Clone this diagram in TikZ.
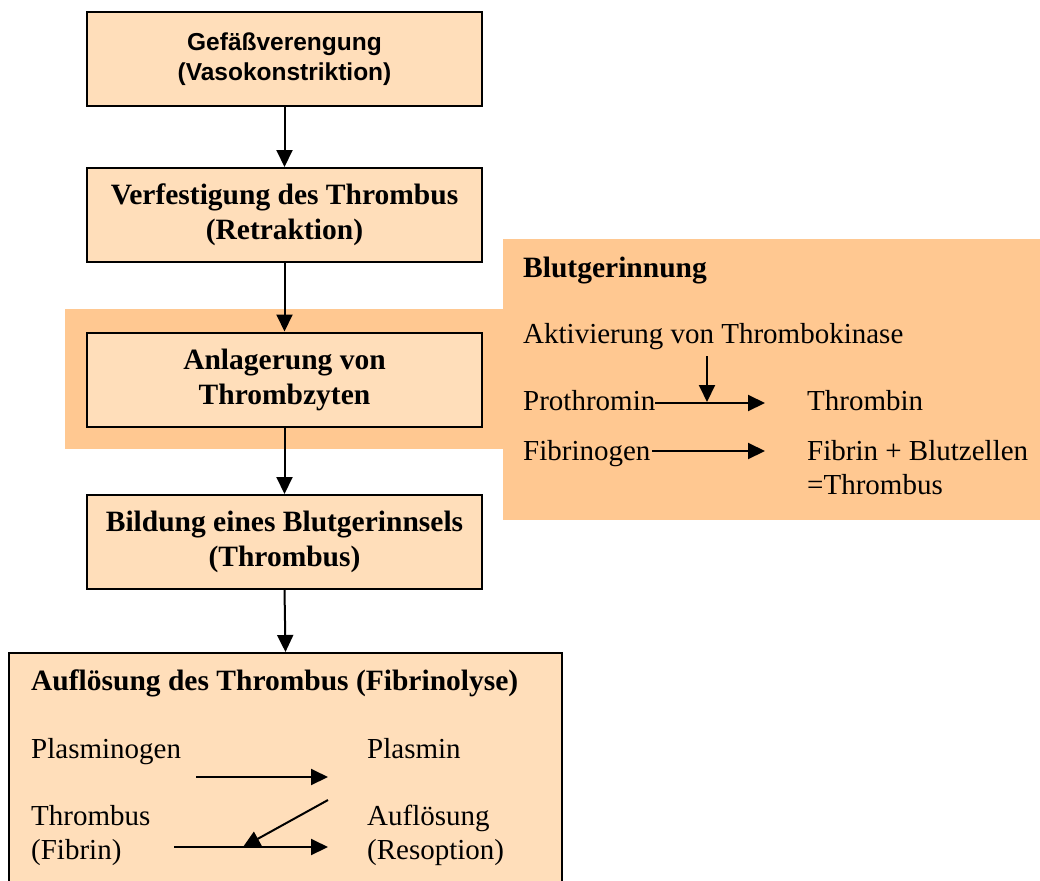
\documentclass[tikz,border=0pt]{standalone}
\usepackage{fontspec}
\setmainfont{Liberation Serif}
\setsansfont{Liberation Sans}
\usetikzlibrary{arrows.meta,positioning}

\definecolor{boxfill}{RGB}{255,222,186}
\definecolor{gerinnfill}{RGB}{255,200,145}

\tikzset{
  stepbox/.style={draw, line width=2pt, fill=boxfill, minimum width=395pt,
    inner sep=0pt, align=center, font=\fontsize{29.5}{35}\selectfont\bfseries},
  txt/.style={anchor=base west, inner sep=0pt, font=\fontsize{29}{35}\selectfont},
  flow/.style={line width=2pt, -{Triangle[length=17pt,width=16pt]}},
}

\begin{document}
\begin{tikzpicture}[x=1pt,y=-1pt]
  \useasboundingbox (0,0) rectangle (1040,880);
  \clip (0,0) rectangle (1040,880);

  % Background Blutgerinnung
  \fill[gerinnfill] (65,309) rectangle (503,449);
  \fill[gerinnfill] (503,239) rectangle (1040,520);

  % Flow boxes
  \node[stepbox, minimum height=94pt, font=\fontsize{24.5}{30}\selectfont\sffamily\bfseries]
    (vaso) at (284.5,59.5) {Gefäßverengung\\(Vasokonstriktion)};
  \node[stepbox, minimum height=94pt] (retra) at (284.5,215) {Verfestigung des Thrombus\\(Retraktion)};
  \node[stepbox, minimum height=94pt] (anlag) at (284.5,379.5) {Anlagerung von\\Thrombzyten};
  \node[stepbox, minimum height=94pt] (bild) at (284.5,542) {Bildung eines Blutgerinnsels\\(Thrombus)};
  \node[draw, line width=2pt, fill=boxfill, minimum width=553pt, minimum height=250pt,
    inner sep=0pt] (fib) at (285.5,778) {};

  % Arrows between boxes
  \draw[flow] (vaso) -- (retra);
  \draw[flow] (retra) -- (anlag);
  \draw[flow] (anlag) -- (bild);
  \draw[flow] (bild.south) -- (fib.north);

  % Blutgerinnung
  \node[txt, font=\fontsize{29.5}{35}\selectfont\bfseries] (gerinn) at (523,277) {Blutgerinnung};
  \node[txt] (aktiv) at (523,343) {Aktivierung von Thrombokinase};
  \node[txt] (prothr) at (523,410) {Prothromin};
  \node[txt] (thrombin) at (807,410) {Thrombin};
  \node[txt] (fibrinog) at (523,460) {Fibrinogen};
  \node[txt] (fibrin) at (807,460) {Fibrin + Blutzellen};
  \node[txt] (thromb) at (807,494) {=Thrombus};
  \coordinate (kinA) at (707,356);
  \coordinate (kinB) at (707,402);
  \coordinate (prA) at (655,403);
  \coordinate (prB) at (765,403);
  \coordinate (fgA) at (652,451);
  \coordinate (fgB) at (765,451);
  \draw[flow] (prA) -- (prB);
  \draw[flow] (kinA) -- (kinB);
  \draw[flow] (fgA) -- (fgB);

  % Fibrinolyse
  \node[txt, font=\fontsize{29.5}{35}\selectfont\bfseries] (fibtitle) at (31,690) {Auflösung des Thrombus (Fibrinolyse)};
  \node[txt] (plasmog) at (31,758) {Plasminogen};
  \node[txt] (plasmin) at (367,758) {Plasmin};
  \node[txt] (thrfib) at (31,825) {Thrombus};
  \node[txt] (fibr) at (31,859) {(Fibrin)};
  \node[txt] (aufl) at (367,825) {Auflösung};
  \node[txt] (resop) at (367,859) {(Resoption)};
  \coordinate (plA) at (196,777);
  \coordinate (plB) at (328,777);
  \coordinate (tfA) at (174,847);
  \coordinate (tfB) at (328,847);
  \coordinate (dgA) at (328,800);
  \coordinate (dgB) at (243,847);
  \draw[flow] (plA) -- (plB);
  \draw[flow] (tfA) -- (tfB);
  \draw[flow] (dgA) -- (dgB);
\end{tikzpicture}
\end{document}
